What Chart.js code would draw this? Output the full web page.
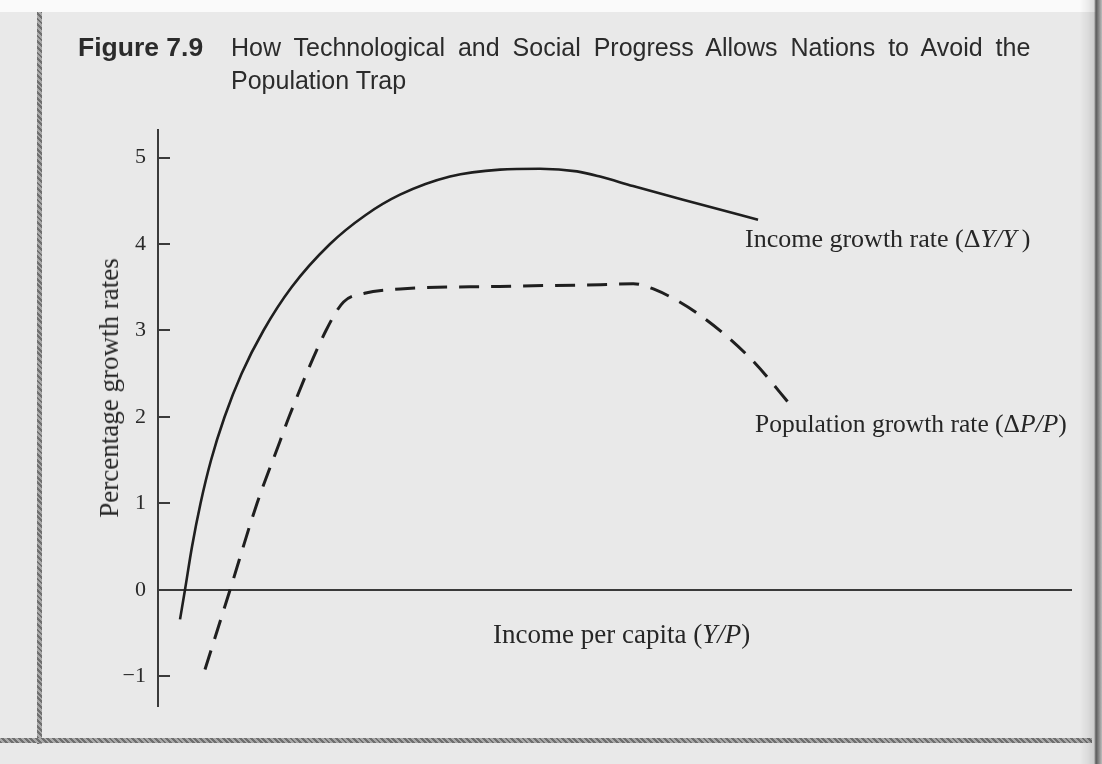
<!DOCTYPE html>
<html><head><meta charset="utf-8">
<script src="https://cdn.jsdelivr.net/npm/chart.js@4.4.1/dist/chart.umd.min.js"></script>
<style>
html,body{margin:0;padding:0;}
body{width:1102px;height:764px;overflow:hidden;background:#e9e9e9;position:relative;font-family:"Liberation Serif",serif;color:#262626;}
#topband{position:absolute;left:0;top:0;width:1102px;height:12px;background:#fafafa;}
#leftrule{position:absolute;left:37px;top:12px;width:5px;height:732px;background:repeating-linear-gradient(45deg,#6f6f6f 0 2px,#a9a9a9 2px 4px);}
#botrule{position:absolute;left:0;top:738px;width:1092px;height:5px;background:repeating-linear-gradient(45deg,#6f6f6f 0 2px,#a9a9a9 2px 4px);}
#rightedge{position:absolute;left:1080px;top:0;width:22px;height:764px;background:linear-gradient(90deg,rgba(0,0,0,0) 0,rgba(0,0,0,0.06) 8px,rgba(0,0,0,0.12) 14px,#5a5a5a 16px,#7a7a7a 18px,#bdbdbd 22px);}
#c{position:absolute;left:0;top:0;}
.t{position:absolute;white-space:nowrap;line-height:26px;font-size:26px;font-family:"Liberation Serif",serif;color:#262626;}
.h{position:absolute;white-space:nowrap;font-family:"Liberation Sans",Arial,sans-serif;font-size:25px;line-height:33px;color:#2b2b2b;}
</style>
</head><body>
<div id="topband"></div>
<canvas id="c" width="1102" height="764"></canvas>
<div id="leftrule"></div>
<div id="botrule"></div>
<div id="rightedge"></div>
<div class="h" style="left:78px;top:31px;font-weight:bold;font-size:26.5px;">Figure 7.9</div>
<div class="h" style="left:231px;top:31px;word-spacing:6px;">How Technological and Social Progress Allows Nations to Avoid the</div>
<div class="h" style="left:231px;top:64px;">Population Trap</div>
<div class="t" style="left:109px;top:388px;font-size:27px;transform:translate(-50%,-50%) rotate(-90deg);">Percentage growth rates</div>
<div class="t" style="left:493px;top:621px;font-size:27px;">Income per capita (<i>Y/P</i>)</div>
<div class="t" style="left:745px;top:226px;">Income growth rate (Δ<i>Y/Y</i>&thinsp;)</div>
<div class="t" style="left:755px;top:411px;font-size:25.5px;">Population growth rate (Δ<i>P/P</i>)</div>
<script>
// Income growth rate (ΔY/Y) – solid curve
const incomeX = [2.41, 2.95, 3.72, 4.65, 5.80, 7.28, 9.14, 11.54, 14.61, 18.82, 22.65, 26.48, 31.95, 37.42, 41.79, 45.84, 48.36, 51.97, 59.30, 65.65];
const incomeY = [-0.34, 0, 0.5, 1.0, 1.5, 2.0, 2.5, 3.0, 3.5, 4.0, 4.33, 4.57, 4.78, 4.86, 4.87, 4.84, 4.78, 4.67, 4.46, 4.28];
// Population growth rate (ΔP/P) – dashed curve
const popX = [5.14, 7.88, 10.83, 13.35, 14.33, 18.38, 20.3, 22.6, 26.5, 37.4, 48.4, 52.0, 54.2, 59.0, 64.8, 69.5];
const popY = [-0.92, 0, 1.0, 1.72, 2.0, 3.0, 3.33, 3.43, 3.48, 3.51, 3.53, 3.54, 3.48, 3.20, 2.68, 2.10];
// Y-axis tick labels
const yTicks = [-1, 0, 1, 2, 3, 4, 5];

const toPts = (xs, ys) => xs.map((x, i) => ({x: x, y: ys[i]}));

const inwardTicks = {
  id: 'inwardTicks',
  afterDraw(chart) {
    const ys = chart.scales.y, ctx = chart.ctx, L = chart.chartArea.left;
    ctx.save();
    ctx.strokeStyle = '#3a3a3a';
    ctx.lineWidth = 2;
    ys.ticks.forEach(t => {
      if (t.value === 0) return;
      const py = Math.round(ys.getPixelForValue(t.value));
      ctx.beginPath();
      ctx.moveTo(L, py);
      ctx.lineTo(L + 12, py);
      ctx.stroke();
    });
    ctx.restore();
  }
};

new Chart(document.getElementById('c'), {
  type: 'line',
  data: {
    datasets: [
      {label: 'Income growth rate', data: toPts(incomeX, incomeY), borderColor: '#1f1f1f', borderWidth: 2.6,
       pointRadius: 0, fill: false, cubicInterpolationMode: 'monotone'},
      {label: 'Population growth rate', data: toPts(popX, popY), borderColor: '#1f1f1f', borderWidth: 3,
       borderDash: [20, 12], pointRadius: 0, fill: false, cubicInterpolationMode: 'monotone'}
    ]
  },
  options: {
    responsive: false,
    animation: false,
    devicePixelRatio: 1,
    layout: {padding: {left: 0, top: 130, right: 30, bottom: 57}},
    plugins: {legend: {display: false}, tooltip: {enabled: false}, title: {display: false}},
    scales: {
      x: {type: 'linear', min: 0, max: 100, display: false},
      y: {
        type: 'linear', min: -1.353, max: 5.318,
        afterFit(s) { s.width = 158; },
        afterBuildTicks(s) { s.ticks = yTicks.map(v => ({value: v})); },
        ticks: {
          font: {family: 'Liberation Serif', size: 22}, color: '#2a2a2a', padding: 12,
          callback: v => v < 0 ? '\u2212' + Math.abs(v) : String(v)
        },
        grid: {
          drawTicks: false,
          color: ctx => (ctx.tick && ctx.tick.value === 0) ? '#3a3a3a' : 'rgba(0,0,0,0)',
          lineWidth: ctx => (ctx.tick && ctx.tick.value === 0) ? 2 : 0
        },
        border: {display: true, color: '#3a3a3a', width: 2}
      }
    }
  },
  plugins: [inwardTicks]
});
</script>
</body></html>
